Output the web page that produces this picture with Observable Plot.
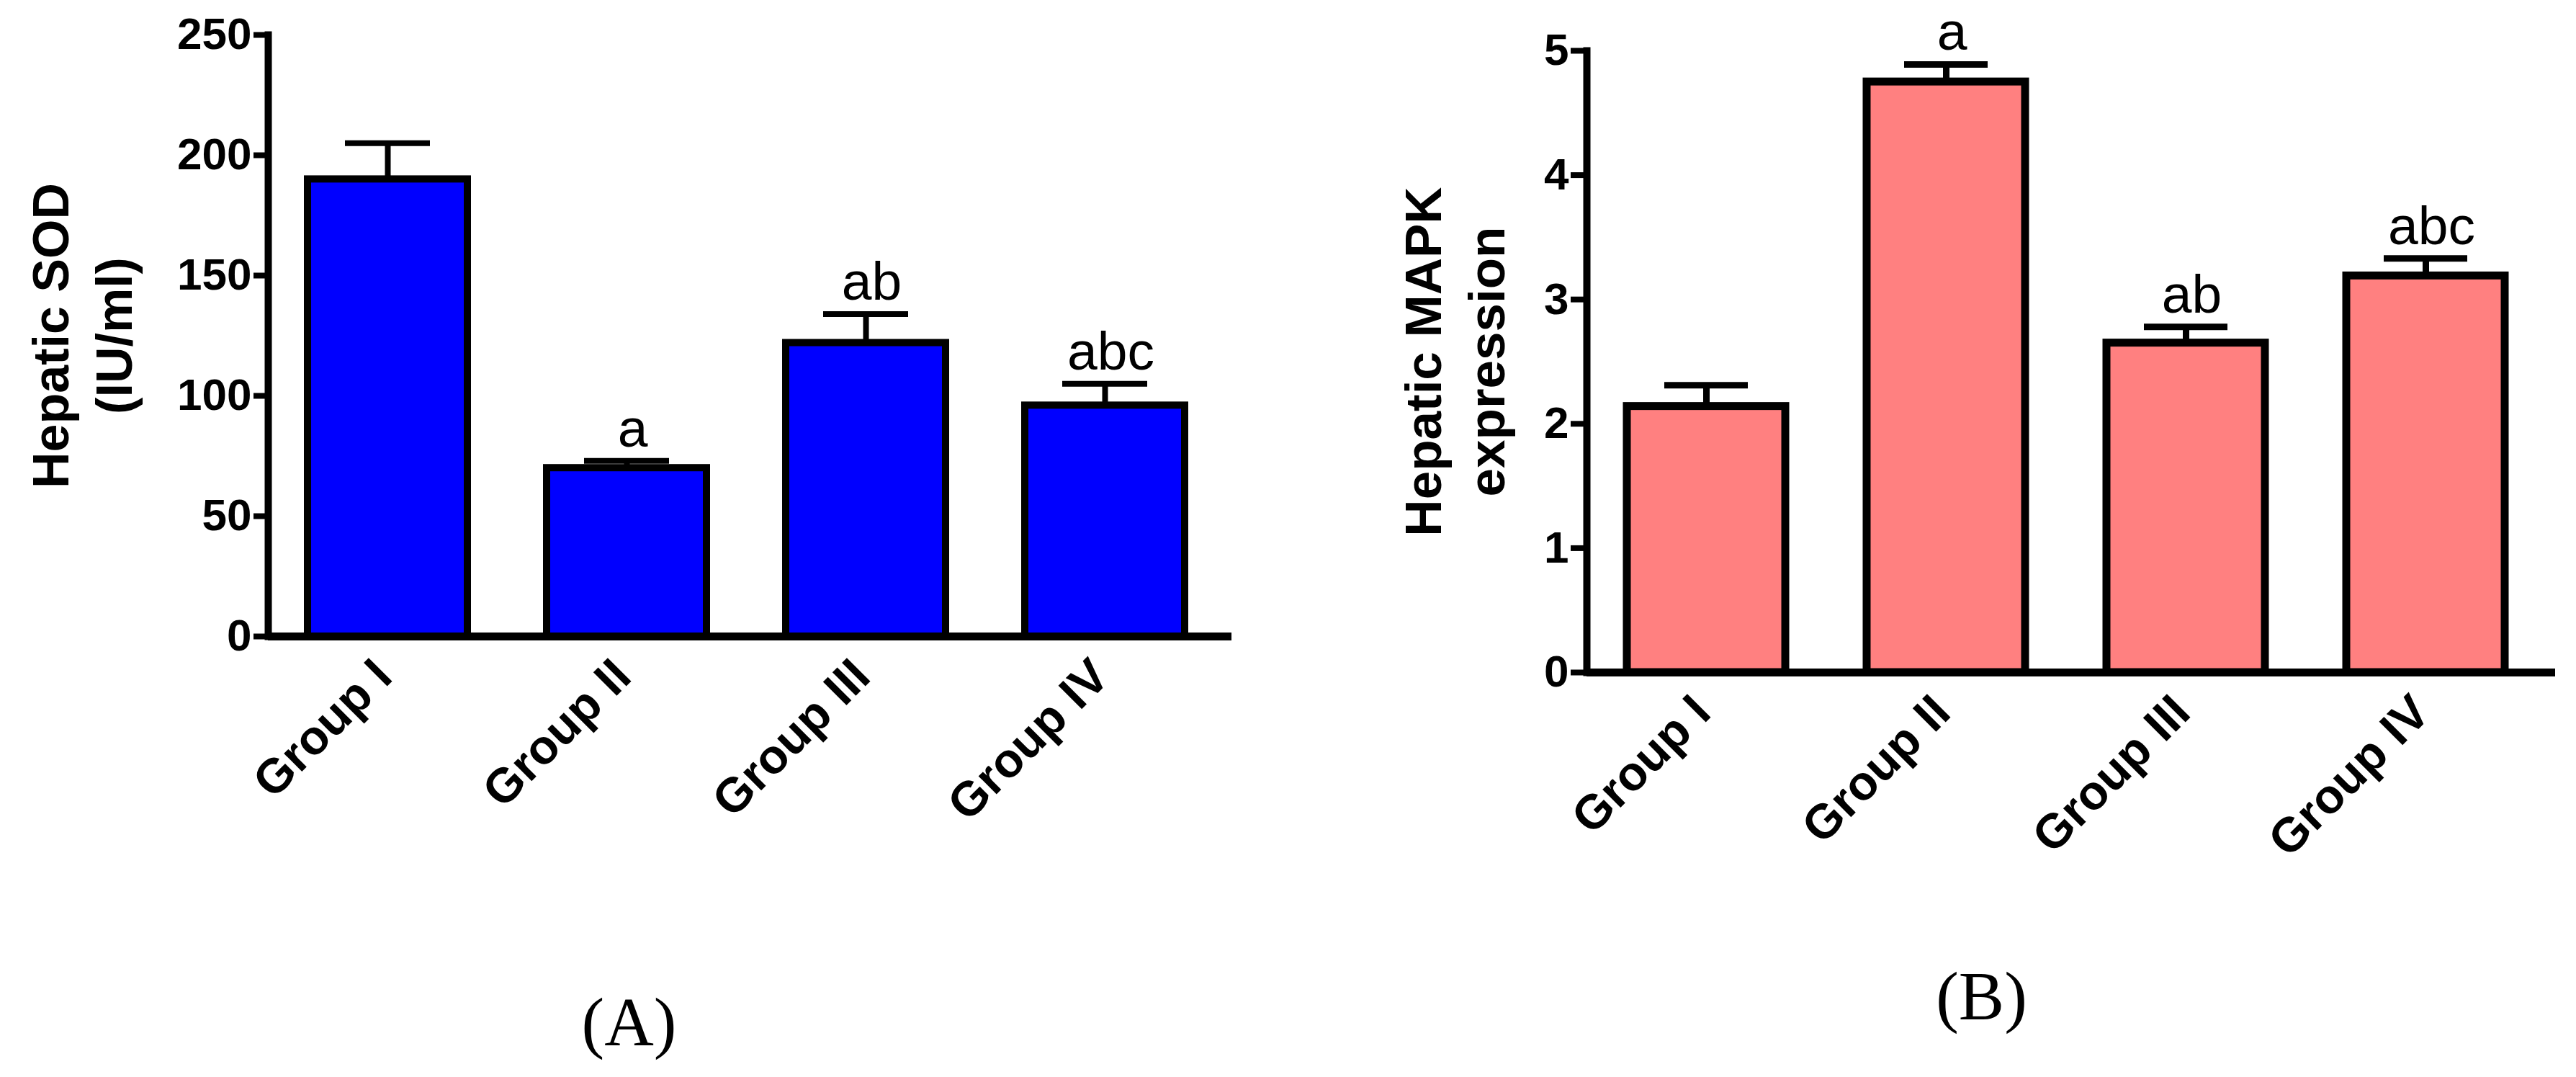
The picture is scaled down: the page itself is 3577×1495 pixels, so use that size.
<!DOCTYPE html>
<html><head><meta charset="utf-8">
<script src="https://cdn.jsdelivr.net/npm/d3@7"></script>
<script src="https://cdn.jsdelivr.net/npm/@observablehq/plot@0.6"></script>
<style>
html,body{margin:0;padding:0;background:#fff;}
#wrap{display:flex;width:3577px;height:1495px;}
</style></head><body><div id="wrap"></div>
<script>
const groups = ["Group I", "Group II", "Group III", "Group IV"];
const sodMean = [190, 70, 122, 96];
const sodSE = [15, 3, 12, 9];
const sodSig = ["", "a", "ab", "abc"];
const mapkMean = [2.14, 4.75, 2.65, 3.19];
const mapkSE = [0.17, 0.14, 0.13, 0.14];
const mapkSig = ["", "a", "ab", "abc"];
const sodTicks = [0, 50, 100, 150, 200, 250];
const mapkTicks = [0, 1, 2, 3, 4, 5];
const sodTitle = "Hepatic SOD\n(IU/ml)";
const mapkTitle = "Hepatic MAPK\nexpression";

function panel(o) {
  const data = groups.map((g, i) => ({group: g, mean: o.means[i], top: o.means[i] + o.ses[i], sig: o.sig[i]}));
  return Plot.plot({
    width: o.width, height: 1495,
    marginLeft: o.mL, marginRight: o.mR, marginTop: o.mT, marginBottom: o.mB,
    style: {fontFamily: "'Liberation Sans', Arial, sans-serif", color: "black", background: "white", overflow: "visible"},
    x: {domain: groups, type: "band", paddingInner: o.pi, paddingOuter: o.po, align: o.align},
    y: {domain: [0, o.yMax]},
    marks: [
      Plot.ruleX(data, {x: "group", y1: "mean", y2: "top", stroke: "black", strokeWidth: o.errStroke}),
      Plot.tickY(data, {x: "group", y: "top", stroke: "black", strokeWidth: o.errStroke, inset: 52}),
      Plot.barY(data, {x: "group", y: "mean", fill: o.fill, stroke: "black", strokeWidth: o.barStroke}),
      Plot.text(data, {x: "group", y: "top", text: "sig", dy: -20, dx: 8, lineAnchor: "bottom", fontSize: 75, fill: "black"}),
      Plot.ruleY([0], {stroke: "black", strokeWidth: 11}),
      Plot.frame({anchor: "left", stroke: "black", strokeWidth: 10}),
      Plot.axisY(o.ticks, {tickSize: o.tickSize, tickPadding: 3, tickFormat: (d) => String(d), fontSize: 62, fontWeight: "bold", strokeWidth: 8, label: null}),
      Plot.axisX({tickSize: 0, tickPadding: 44, tickRotate: -45, dx: -6, fontSize: 67, fontWeight: "bold", label: null}),
      Plot.text([o.title], {frameAnchor: "left", rotate: -90, dx: o.titleDx, lineHeight: o.lineHeight, fontSize: o.titleSize, fontWeight: "bold", textAnchor: "middle", lineAnchor: "middle", fill: "black"}),
      Plot.text([o.panelLabel], {frameAnchor: "bottom", dx: o.labelDx, dy: o.labelDy, textAnchor: "middle", lineAnchor: "bottom", fontSize: 95, fill: "black", fontFamily: "'Liberation Serif', 'Times New Roman', serif"})
    ]
  });
}

const wrap = document.getElementById("wrap");
wrap.append(panel({
  width: 1790, mL: 372, mR: 80, mT: 48, mB: 612,
  pi: 0.331, po: 0.1805, align: 0.458, yMax: 250, ticks: sodTicks, tickSize: 20,
  means: sodMean, ses: sodSE, sig: sodSig, fill: "#0000FF",
  title: sodTitle, titleSize: 70, titleDx: -262, lineHeight: 1.26,
  barStroke: 10, errStroke: 8, panelLabel: "(A)", labelDx: -168, labelDy: 567
}));
wrap.append(panel({
  width: 1787, mL: 413, mR: 29, mT: 70, mB: 562,
  pi: 0.34, po: 0.1835, align: 0.445, yMax: 5, ticks: mapkTicks, tickSize: 22,
  means: mapkMean, ses: mapkSE, sig: mapkSig, fill: "#FF8080",
  title: mapkTitle, titleSize: 71, titleDx: -187, lineHeight: 1.24,
  barStroke: 11, errStroke: 9, panelLabel: "(B)", labelDx: -124.5, labelDy: 481
}));
</script></body></html>
